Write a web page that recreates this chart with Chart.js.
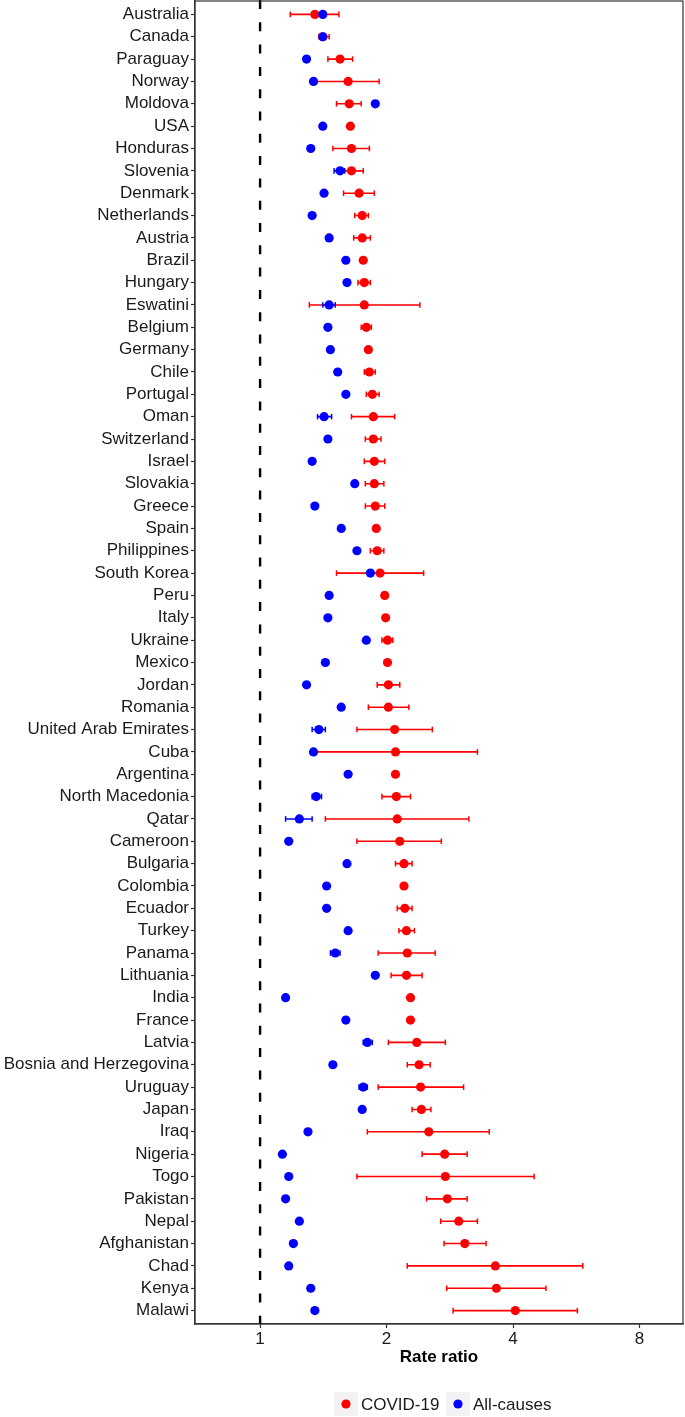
<!DOCTYPE html>
<html>
<head>
<meta charset="utf-8">
<title>Rate ratio by country</title>
<script src="https://cdn.jsdelivr.net/npm/chart.js@4.4.1/dist/chart.umd.min.js"></script>
<style>
  html, body { margin: 0; padding: 0; background: #fff; }
  #wrap { width: 685px; height: 1417px; position: relative; }
</style>
</head>
<body>
<div id="wrap"><canvas id="forest"></canvas></div>
<script>
// forest plot: COVID-19 vs all-cause rate ratios, log2 x axis

const countries = [
  "Australia", "Canada", "Paraguay", "Norway", "Moldova", "USA", "Honduras",
  "Slovenia", "Denmark", "Netherlands", "Austria", "Brazil", "Hungary",
  "Eswatini", "Belgium", "Germany", "Chile", "Portugal", "Oman", "Switzerland",
  "Israel", "Slovakia", "Greece", "Spain", "Philippines", "South Korea", "Peru",
  "Italy", "Ukraine", "Mexico", "Jordan", "Romania", "United Arab Emirates",
  "Cuba", "Argentina", "North Macedonia", "Qatar", "Cameroon", "Bulgaria",
  "Colombia", "Ecuador", "Turkey", "Panama", "Lithuania", "India", "France",
  "Latvia", "Bosnia and Herzegovina", "Uruguay", "Japan", "Iraq", "Nigeria",
  "Togo", "Pakistan", "Nepal", "Afghanistan", "Chad", "Kenya", "Malawi"
];

const covidRR = [
  1.35, 1.41, 1.55, 1.62, 1.63, 1.64, 1.65, 1.65, 1.72, 1.75,
  1.75, 1.76, 1.77, 1.77, 1.79, 1.81, 1.82, 1.85, 1.86, 1.86,
  1.87, 1.87, 1.88, 1.89, 1.90, 1.93, 1.98, 1.99, 2.01, 2.01,
  2.02, 2.02, 2.09, 2.10, 2.10, 2.11, 2.12, 2.15, 2.20, 2.20,
  2.21, 2.23, 2.24, 2.23, 2.28, 2.28, 2.36, 2.39, 2.41, 2.42,
  2.52, 2.75, 2.76, 2.79, 2.97, 3.07, 3.63, 3.65, 4.05
];
const covidLo = [
  1.18, 1.38, 1.45, 1.36, 1.52, null, 1.49, 1.56, 1.58, 1.68,
  1.67, null, 1.71, 1.31, 1.74, null, 1.77, 1.79, 1.65, 1.78,
  1.77, 1.78, 1.78, null, 1.83, 1.52, null, null, 1.95, null,
  1.90, 1.81, 1.70, 1.35, null, 1.95, 1.43, 1.70, 2.10, null,
  2.12, 2.14, 1.91, 2.05, null, null, 2.02, 2.24, 1.91, 2.30,
  1.80, 2.43, 1.70, 2.49, 2.69, 2.74, 2.24, 2.78, 2.88
];
const covidHi = [
  1.54, 1.46, 1.66, 1.92, 1.74, null, 1.82, 1.76, 1.87, 1.81,
  1.83, null, 1.83, 2.40, 1.84, null, 1.88, 1.92, 2.09, 1.94,
  1.98, 1.97, 1.98, null, 1.97, 2.45, null, null, 2.07, null,
  2.15, 2.26, 2.57, 3.29, null, 2.28, 3.14, 2.70, 2.30, null,
  2.30, 2.33, 2.61, 2.43, null, null, 2.76, 2.54, 3.05, 2.55,
  3.51, 3.11, 4.49, 3.11, 3.29, 3.45, 5.86, 4.79, 5.69
];

const allRR = [
  1.41, 1.41, 1.29, 1.34, 1.88, 1.41, 1.32, 1.55, 1.42, 1.33,
  1.46, 1.60, 1.61, 1.46, 1.45, 1.47, 1.53, 1.60, 1.42, 1.45,
  1.33, 1.68, 1.35, 1.56, 1.70, 1.83, 1.46, 1.45, 1.79, 1.43,
  1.29, 1.56, 1.38, 1.34, 1.62, 1.36, 1.24, 1.17, 1.61, 1.44,
  1.44, 1.62, 1.51, 1.88, 1.15, 1.60, 1.80, 1.49, 1.76, 1.75,
  1.30, 1.13, 1.17, 1.15, 1.24, 1.20, 1.17, 1.32, 1.35
];
const allLo = [
  null, null, null, null, null, null, null, 1.50, null, null,
  null, null, null, 1.41, null, null, null, null, 1.37, null,
  null, null, null, null, null, null, null, null, null, null,
  null, null, 1.33, null, null, 1.33, 1.15, null, null, null,
  null, null, 1.47, null, null, null, 1.76, 1.47, 1.72, null,
  null, null, null, null, null, null, null, null, null
];
const allHi = [
  null, null, null, null, null, null, null, 1.59, null, null,
  null, null, null, 1.51, null, null, null, null, 1.48, null,
  null, null, null, null, null, null, null, null, null, null,
  null, null, 1.43, null, null, 1.40, 1.33, null, null, null,
  null, null, 1.55, null, null, null, 1.85, 1.51, 1.80, null,
  null, null, null, null, null, null, null, null, null
];

const seriesNames = ["COVID-19", "All-causes"];
const seriesColors = ["#ff0000", "#0000ff"];
const xTicks = [1, 2, 4, 8];
const refValue = 1;

(function () {
  "use strict";

  const FONT = '"Liberation Sans", Arial, Helvetica, sans-serif';
  Chart.defaults.font.family = FONT;
  Chart.defaults.font.size = 17;

  function pointData(vals) {
    return vals.map((v, i) => ({ x: v, y: i + 1 }));
  }

  // segments lo->hi, broken by a null point
  function whiskerData(lo, hi) {
    const pts = [];
    lo.forEach((l, i) => {
      if (l == null) return;
      pts.push({ x: l, y: i + 1 }, { x: hi[i], y: i + 1 }, { x: null, y: null });
    });
    return pts;
  }

  function capData(lo, hi) {
    const pts = [];
    lo.forEach((l, i) => {
      if (l == null) return;
      pts.push({ x: l, y: i + 1 }, { x: hi[i], y: i + 1 });
    });
    return pts;
  }

  function seriesDatasets(name, color, rr, lo, hi, baseOrder) {
    return [
      {
        label: name + " CI",
        type: "line",
        data: whiskerData(lo, hi),
        borderColor: color,
        borderWidth: 1.6,
        pointRadius: 0,
        spanGaps: false,
        order: baseOrder + 2,
      },
      {
        label: name + " caps",
        data: capData(lo, hi),
        pointStyle: "line",
        rotation: 90,
        pointRadius: 2.8,
        borderColor: color,
        borderWidth: 1.5,
        order: baseOrder + 1,
      },
      {
        label: name,
        data: pointData(rr),
        pointRadius: 4.6,
        backgroundColor: color,
        borderWidth: 0,
        order: baseOrder,
      },
    ];
  }

  // keep the panel edges where ggplot puts them, not where label sizes push them
  function noScalePadding(s) {
    s.paddingTop = 0;
    s.paddingBottom = 0;
    s.paddingLeft = 0;
    s.paddingRight = 0;
  }

  const refLine = {
    id: "refLine",
    beforeDatasetsDraw(chart) {
      const { ctx, chartArea } = chart;
      const x = chart.scales.x.getPixelForValue(refValue);
      ctx.save();
      ctx.strokeStyle = "#000";
      ctx.lineWidth = 2.4;
      ctx.setLineDash([9, 13.3]);
      ctx.beginPath();
      ctx.moveTo(x, chartArea.top - 1);
      ctx.lineTo(x, chartArea.bottom);
      ctx.stroke();
      ctx.restore();
    },
  };

  const frame = {
    id: "frame",
    afterDraw(chart) {
      const { ctx, chartArea: a } = chart;
      ctx.save();
      ctx.strokeStyle = "#333";
      ctx.lineWidth = 1.2;
      ctx.strokeRect(a.left, a.top, a.right - a.left, a.bottom - a.top);
      ctx.restore();
    },
  };

  // ggplot style legend: grey key boxes with a dot, under the axis title
  const keyLegend = {
    id: "keyLegend",
    afterDraw(chart) {
      const { ctx } = chart;
      const y = 1404;
      const keyX = [346, 458];
      ctx.save();
      ctx.font = "17px " + FONT;
      ctx.textBaseline = "middle";
      ctx.textAlign = "left";
      seriesNames.forEach((name, i) => {
        ctx.fillStyle = "#f2f2f2";
        ctx.fillRect(keyX[i] - 12, y - 12, 24, 24);
        ctx.fillStyle = seriesColors[i];
        ctx.beginPath();
        ctx.arc(keyX[i], y, 4.6, 0, Math.PI * 2);
        ctx.fill();
        ctx.fillStyle = "#1a1a1a";
        ctx.fillText(name, keyX[i] + 15, y + 1);
      });
      ctx.restore();
    },
  };

  const datasets = [
    ...seriesDatasets(seriesNames[0], seriesColors[0], covidRR, covidLo, covidHi, 4),
    ...seriesDatasets(seriesNames[1], seriesColors[1], allRR, allLo, allHi, 1),
  ];

  new Chart(document.getElementById("forest").getContext("2d"), {
    type: "scatter",
    data: { datasets },
    plugins: [refLine, frame, keyLegend],
    options: {
      responsive: true,
      maintainAspectRatio: false,
      animation: false,
      events: [],
      layout: {
        autoPadding: false,
        padding: { top: 1, right: 2, bottom: 43, left: 0 },
      },
      plugins: {
        legend: { display: false },
        tooltip: { enabled: false },
      },
      scales: {
        x: {
          type: "logarithmic",
          min: 0.709,
          max: 10.15,
          afterBuildTicks: (s) => {
            s.ticks = xTicks.map((v) => ({ value: v }));
          },
          afterFit: (s) => {
            s.height = 50;
            noScalePadding(s);
          },
          ticks: {
            padding: 1,
            color: "#1a1a1a",
            maxRotation: 0,
            callback: (v) => String(v),
          },
          grid: {
            drawOnChartArea: false,
            drawTicks: true,
            tickLength: 4,
            tickColor: "#333",
            tickWidth: 1.2,
          },
          border: { display: true, color: "#333", width: 1.3 },
          title: {
            display: true,
            text: "Rate ratio",
            color: "#000",
            font: { size: 17, weight: "bold" },
            padding: { top: 0, bottom: 6 },
          },
        },
        y: {
          type: "linear",
          reverse: true,
          min: 0.4,
          max: 59.6,
          afterBuildTicks: (s) => {
            s.ticks = countries.map((_, i) => ({ value: i + 1 }));
          },
          afterFit: (s) => {
            s.width = 195;
            noScalePadding(s);
          },
          ticks: {
            autoSkip: false,
            padding: 2,
            color: "#1a1a1a",
            callback: (v) => countries[v - 1],
          },
          grid: {
            drawOnChartArea: false,
            drawTicks: true,
            tickLength: 4,
            tickColor: "#333",
            tickWidth: 1.2,
          },
          border: { display: true, color: "#333", width: 1.3 },
        },
      },
    },
  });
})();
</script>
</body>
</html>
